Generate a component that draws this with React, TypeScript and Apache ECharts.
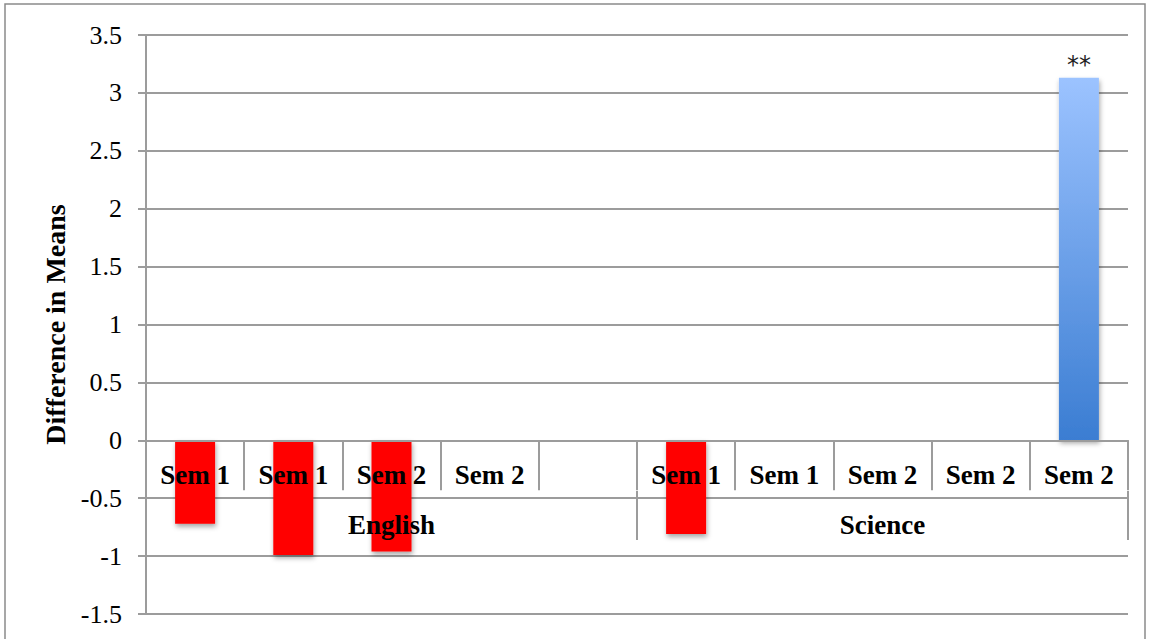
import React, { useEffect, useRef } from "react";
import * as echarts from "echarts";

const categories = ["Sem 1", "Sem 1", "Sem 2", "Sem 2", "", "Sem 1", "Sem 1", "Sem 2", "Sem 2", "Sem 2"];
const groups = ["English", "Science"];
const values: (number | null)[] = [-0.72, -0.99, -0.96, 0, null, -0.81, 0, 0, 0, 3.13];
const marks = ["", "", "", "", "", "", "", "", "", "**"];
const yTitle = "Difference in Means";

const GRID_LINE = "#9c9c9c";
const SERIF = "'Liberation Serif', 'Times New Roman', serif";
const Y_MIN = -1.5;
const Y_MAX = 3.5;
const GRID_TOP = 35;
const GRID_BOTTOM_Y = 614;

export default function App() {
  const ref = useRef<HTMLDivElement>(null);
  useEffect(() => {
    document.body.style.margin = "0";
    const chart = echarts.init(ref.current!, undefined, { renderer: "svg" });
    const zeroOffset = ((0 - Y_MIN) / (Y_MAX - Y_MIN)) * (GRID_BOTTOM_Y - GRID_TOP);
    const data = values.map((v, i) => ({
      value: v,
      itemStyle: {
        color:
          v !== null && v > 0
            ? new echarts.graphic.LinearGradient(0, 0, 0, 1, [
                { offset: 0, color: "#9cc3ff" },
                { offset: 1, color: "#3b7dd2" },
              ])
            : "#ff0000",
      },
      label: {
        show: marks[i] !== "",
        position: "top",
        distance: 1,
        formatter: marks[i],
        fontSize: 24,
        color: "#222",
        fontFamily: "'DejaVu Sans', sans-serif",
      },
    }));
    chart.setOption({
      animation: false,
      backgroundColor: "#fff",
      grid: [
        { left: 146, right: 22, top: GRID_TOP, bottom: 639 - GRID_BOTTOM_Y, outerBoundsMode: "none", containLabel: false },
        { left: 146, right: 22, top: 491, height: 49, outerBoundsMode: "none", containLabel: false },
      ],
      graphic: [
        {
          type: "rect",
          shape: { x: 5, y: 4, width: 1140, height: 700 },
          style: { fill: "none", stroke: "#8a8a8a", lineWidth: 1.5 },
          silent: true,
        },
      ],
      xAxis: [
        {
          type: "category",
          gridIndex: 0,
          data: categories,
          position: "bottom",
          offset: -zeroOffset,
          z: 5,
          axisLine: { onZero: false, lineStyle: { color: GRID_LINE, width: 2 } },
          axisTick: { show: true, length: 50, alignWithLabel: false, lineStyle: { color: GRID_LINE, width: 2 } },
          axisLabel: {
            interval: 0,
            margin: 21,
            fontSize: 27,
            fontWeight: "bold",
            color: "#000",
            fontFamily: SERIF,
          },
        },
        {
          type: "category",
          gridIndex: 1,
          data: groups,
          position: "top",
          z: 5,
          axisLine: { show: false, onZero: false },
          axisTick: { show: true, inside: true, length: 49, alignWithLabel: false, lineStyle: { color: GRID_LINE, width: 2 } },
          axisLabel: {
            inside: true,
            interval: 0,
            margin: 20,
            fontSize: 27,
            fontWeight: "bold",
            color: "#000",
            fontFamily: SERIF,
          },
        },
      ],
      yAxis: [
        {
          type: "value",
          gridIndex: 0,
          min: Y_MIN,
          max: Y_MAX,
          interval: 0.5,
          name: yTitle,
          nameLocation: "middle",
          nameGap: 76,
          nameTextStyle: { fontSize: 28, fontWeight: "bold", color: "#000", fontFamily: SERIF },
          axisLine: { show: true, onZero: false, lineStyle: { color: GRID_LINE, width: 2 } },
          axisTick: { show: true, length: 8, lineStyle: { color: GRID_LINE, width: 2 } },
          splitLine: { show: true, lineStyle: { color: GRID_LINE, width: 2 } },
          axisLabel: { fontSize: 26, color: "#000", fontFamily: SERIF, margin: 24 },
        },
        { type: "value", gridIndex: 1, show: false, min: 0, max: 1 },
      ],
      series: [
        {
          type: "bar",
          xAxisIndex: 0,
          yAxisIndex: 0,
          barWidth: 40,
          data,
          itemStyle: {
            shadowColor: "rgba(0,0,0,0.35)",
            shadowBlur: 5,
            shadowOffsetX: 1,
            shadowOffsetY: 3,
          },
        },
      ],
    });
    return () => chart.dispose();
  }, []);
  return <div ref={ref} style={{ width: 1150, height: 639 }} />;
}
